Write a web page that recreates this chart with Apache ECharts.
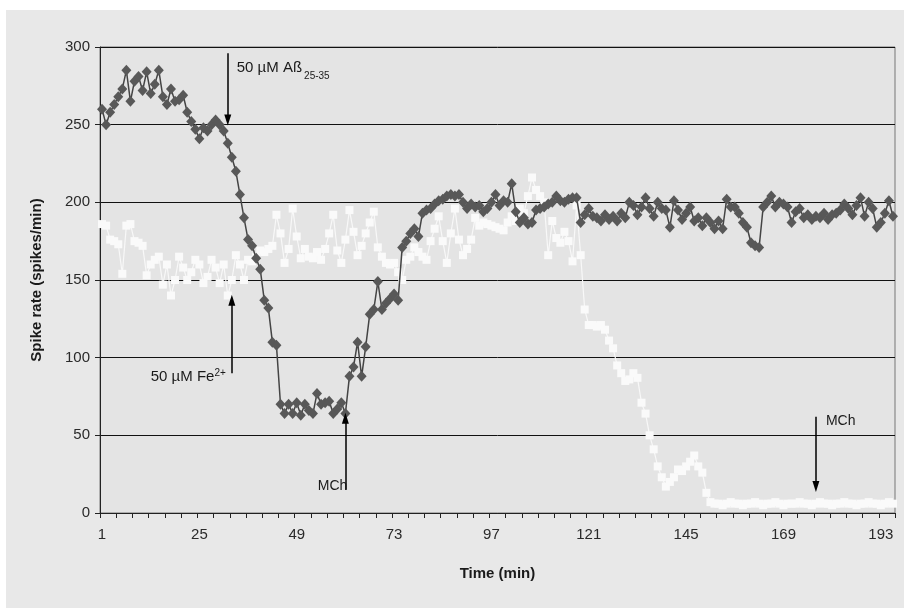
<!DOCTYPE html>
<html>
<head>
<meta charset="utf-8">
<script src="https://cdn.jsdelivr.net/npm/echarts@6/dist/echarts.min.js"></script>
<style>
  html, body { margin: 0; padding: 0; background: #fff; }
  #chart { width: 904px; height: 608px; }
</style>
</head>
<body>
<div id="chart"></div>
<script>
// minutes 1..196
const categories = [];
for (let i = 1; i <= 196; i++) categories.push(String(i));

const yTicks = [0, 50, 100, 150, 200, 250, 300];

// dark diamonds (Aß25-35 + MCh)
const abetaRate = [
  260, 250, 258, 263, 268, 273, 285, 265, 278, 281,
  272, 284, 270, 276, 285, 268, 263, 273, 265, 266,
  269, 258, 252, 247, 241, 248, 246, 250, 253, 250,
  246, 238, 229, 220, 205, 190, 176, 172, 164, 157,
  137, 132, 110, 108, 70, 64, 70, 64, 71, 63,
  70, 66, 64, 77, 70, 71, 72, 64, 67, 71,
  64, 88, 94, 110, 88, 107, 128, 131, 149, 131,
  135, 138, 141, 137, 171, 175, 180, 183, 178, 193,
  195, 196, 199, 201, 202, 204, 205, 204, 205, 200,
  196, 199, 197, 198, 194, 196, 200, 205, 198, 201,
  200, 212, 194, 187, 190, 186, 187, 195, 196, 197,
  199, 200, 204, 201, 200, 202, 203, 203, 187, 192,
  196, 191, 190, 188, 192, 189, 191, 188, 193, 190,
  200, 198, 192, 197, 203, 196, 191, 200, 196, 195,
  184, 201, 195, 189, 193, 197, 188, 190, 185, 190,
  187, 183, 188, 183, 202, 197, 197, 193, 187, 184,
  174, 172, 171, 197, 200, 204, 197, 200, 199, 197,
  187, 194, 196, 190, 192, 189, 191, 190, 193, 189,
  192, 193, 195, 199, 196, 192, 198, 203, 191, 200,
  196, 184, 187, 193, 201, 191
];

// light squares (Fe2+ + MCh)
const ironRate = [
  186, 185, 176, 175, 173, 154, 185, 186, 175, 174,
  172, 153, 160, 163, 165, 147, 160, 140, 150, 165,
  158, 150, 155, 163, 160, 148, 152, 163, 158, 148,
  160, 140, 150, 166, 160, 150, 163, 162, 165, 169,
  168, 170, 172, 192, 180, 161, 170, 196, 178, 164,
  170, 165, 164, 168, 163, 170, 180, 192, 169, 161,
  176, 195, 181, 166, 172, 180, 187, 194, 171, 165,
  161, 160, 161, 155, 150, 163, 165, 171, 168, 165,
  163, 175, 183, 191, 175, 161, 180, 196, 176, 166,
  170, 176, 190, 185, 187, 186, 185, 184, 183, 182,
  187, 191, 188, 196, 193, 204, 216, 208, 204, 200,
  166, 188, 177, 174, 181, 175, 162, 198, 166, 131,
  121, 121, 120, 121, 118, 111, 106, 95, 90, 85,
  86, 90, 87, 71, 64, 50, 41, 30, 23, 17,
  20, 23, 28, 27, 30, 33, 37, 30, 26, 13,
  7, 6, 6, 5, 6, 7, 6, 6, 5, 6,
  6, 7, 6, 5, 6, 6, 7, 6, 5, 6,
  6, 6, 7, 6, 6, 5, 6, 7, 6, 6,
  5, 6, 6, 7, 6, 6, 5, 6, 6, 7,
  6, 6, 5, 6, 7, 6
];

// arrows: [minute, from value, to value]
const arrowAbeta = ['32', 296, 253];
const arrowIron = ['33', 90, 137];
const arrowMch1 = ['61', 15, 61];
const arrowMch2 = ['177', 62, 17];

const font = '"Liberation Sans", Arial, sans-serif';

let myChart = echarts.init(document.getElementById('chart'));

function arrow(a) {
    return [{ coord: [a[0], a[1]] }, { coord: [a[0], a[2]] }];
}

let option = {
    backgroundColor: '#e8e8e8',
    animation: false,
    grid: {
        left: 100,
        right: 9,
        top: 47,
        bottom: 95,
        show: true,
        backgroundColor: '#e4e4e4',
        borderColor: '#777',
        borderWidth: 1
    },
    xAxis: {
        type: 'category',
        data: categories,
        boundaryGap: true,
        name: 'Time (min)',
        nameLocation: 'middle',
        nameGap: 53,
        nameTextStyle: { fontFamily: font, fontWeight: 'bold', fontSize: 15, color: '#1a1a1a' },
        axisLine: { show: true, lineStyle: { color: '#222', width: 1 } },
        axisTick: { show: true, interval: 3, length: 5, inside: false, lineStyle: { color: '#222' } },
        axisLabel: {
            interval: 23,
            margin: 14,
            fontFamily: font,
            fontSize: 15,
            color: '#2a2a2a'
        },
        splitLine: { show: false }
    },
    yAxis: {
        type: 'value',
        min: yTicks[0],
        max: yTicks[yTicks.length - 1],
        interval: 50,
        name: 'Spike rate (spikes/min)',
        nameLocation: 'middle',
        nameGap: 56,
        nameTextStyle: { fontFamily: font, fontWeight: 'bold', fontSize: 15, color: '#1a1a1a' },
        axisLine: { show: true, lineStyle: { color: '#222', width: 1 } },
        axisTick: { show: true, length: 5, lineStyle: { color: '#222' } },
        axisLabel: { fontFamily: font, fontSize: 15, color: '#2a2a2a', margin: 10 },
        splitLine: { show: true, lineStyle: { color: '#111', width: 1 } }
    },
    series: [
        {
            name: 'Fe2+',
            type: 'line',
            data: ironRate,
            showSymbol: true,
            showAllSymbol: true,
            symbol: 'rect',
            symbolSize: 8,
            itemStyle: { color: '#fafafa' },
            lineStyle: { color: '#f8f8f8', width: 1.2 },
            z: 2
        },
        {
            name: 'Aß25-35',
            type: 'line',
            data: abetaRate,
            showSymbol: true,
            showAllSymbol: true,
            symbol: 'diamond',
            symbolSize: [10, 11],
            itemStyle: { color: '#585858' },
            lineStyle: { color: '#444', width: 1.5 },
            z: 3,
            markLine: {
                silent: true,
                symbol: ['none', 'triangle'],
                symbolSize: [7, 11],
                label: { show: false },
                lineStyle: { color: '#000', width: 1.5, type: 'solid' },
                emphasis: { disabled: true },
                data: [arrow(arrowAbeta), arrow(arrowIron), arrow(arrowMch1), arrow(arrowMch2)]
            }
        }
    ]
};

myChart.setOption(option, true);

// annotation texts next to the arrows
const ctx = document.createElement('canvas').getContext('2d');
function textWidth(str, size) {
    ctx.font = size + 'px ' + font;
    return ctx.measureText(str).width;
}
const px = (c, v) => myChart.convertToPixel({ gridIndex: 0 }, [c, v]);

const pA = px(arrowAbeta[0], arrowAbeta[1]);
const pF = px(arrowIron[0], arrowIron[1]);
const pM1 = px(arrowMch1[0], arrowMch1[1]);
const pM2 = px(arrowMch2[0], arrowMch2[1]);

const aText = '50 µM Aß';
const aW = textWidth(aText, 15);
const fText = '50 µM Fe';
const supW = textWidth('2+', 10);

const txt = (x, y, text, size, align) => ({
    type: 'text', x: x, y: y, z: 10,
    style: { text: text, fontFamily: font, fontSize: size, fill: '#1a1a1a', align: align || 'left', verticalAlign: 'middle' }
});

myChart.setOption({
    graphic: [
        { type: 'rect', left: 0, top: 0, shape: { width: 904, height: 10 }, style: { fill: '#fff' }, z: -1 },
        { type: 'rect', left: 0, top: 0, shape: { width: 6, height: 608 }, style: { fill: '#fff' }, z: -1 },
        txt(pA[0] + 9, pA[1] + 15, aText, 15),
        txt(pA[0] + 9 + aW + 2, pA[1] + 23, '25-35', 10),
        txt(pF[0] - 6 - supW, pF[1] + 4, fText, 15, 'right'),
        txt(pF[0] - 6, pF[1], '2+', 10, 'right'),
        txt(pM1[0] + 2, pM1[1] - 4, 'MCh', 14, 'right'),
        txt(pM2[0] + 10, pM2[1] + 4, 'MCh', 14)
    ]
});

window.addEventListener('resize', () => {
    myChart.resize();
});
</script>
</body>
</html>
